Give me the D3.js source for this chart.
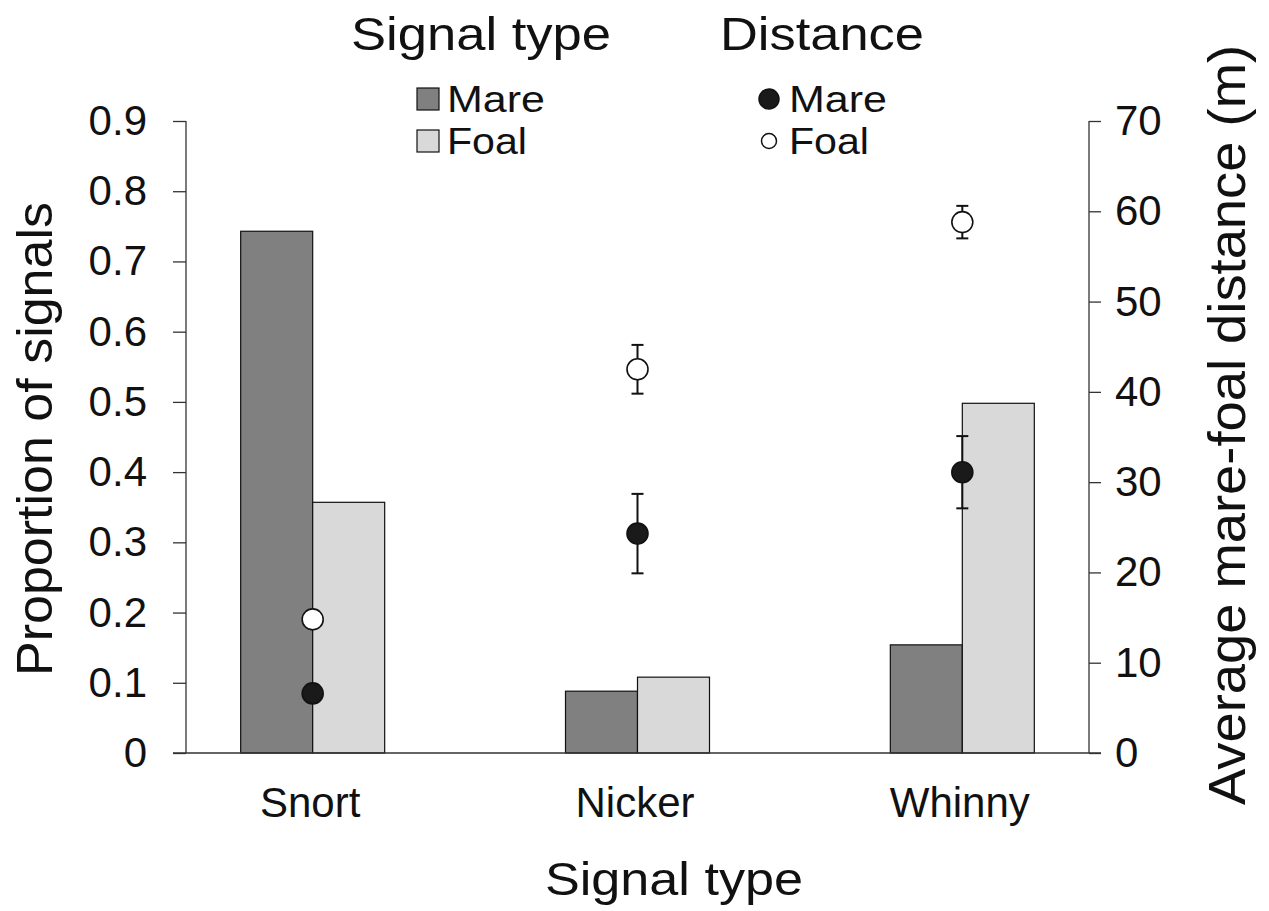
<!DOCTYPE html>
<html>
<head>
<meta charset="utf-8">
<script src="https://cdn.jsdelivr.net/npm/d3@7"></script>
<style>
  html, body { margin: 0; padding: 0; background: #fff; }
  svg { display: block; font-family: "Liberation Sans", Arial, sans-serif; }
</style>
</head>
<body>
<svg id="chart" width="1269" height="911"></svg>
<script>
// Signal categories
const categories = ["Snort", "Nicker", "Whinny"];

// Proportion of signals produced (bars, left axis)
const mareProportion = [0.743, 0.088, 0.154];
const foalProportion = [0.357, 0.108, 0.498];

// Average mare-foal distance in metres (points, right axis)
const mareDistance = [6.6, 24.3, 31.1];
const mareDistanceErr = [0, 4.4, 4.0];
const foalDistance = [14.8, 42.5, 58.8];
const foalDistanceErr = [0, 2.7, 1.8];

const leftTicks = [0, 0.1, 0.2, 0.3, 0.4, 0.5, 0.6, 0.7, 0.8, 0.9];
const rightTicks = [0, 10, 20, 30, 40, 50, 60, 70];

const svg = d3.select("#chart");
const plotLeft = 186, plotRight = 1089, plotTop = 121, plotBottom = 753;

const x = d3.scalePoint().domain(categories).range([plotLeft, plotRight]).padding(0.39);
const yL = d3.scaleLinear().domain([0, 0.9]).range([plotBottom, plotTop]);
const yR = d3.scaleLinear().domain([0, 70]).range([plotBottom, plotTop]);
const barW = 72;

const axisColor = "#333";
const ink = "#111";

// Bars
const barData = categories.flatMap((c, i) => [
  { cat: c, v: mareProportion[i], off: -barW, fill: "#808080" },
  { cat: c, v: foalProportion[i], off: 0, fill: "#d9d9d9" }
]);
svg.append("g").selectAll("rect.bar").data(barData).join("rect")
  .attr("class", "bar")
  .attr("x", d => x(d.cat) + d.off)
  .attr("width", barW)
  .attr("y", d => yL(d.v))
  .attr("height", d => yL(0) - yL(d.v))
  .attr("fill", d => d.fill)
  .attr("stroke", ink)
  .attr("stroke-width", 1.2);

// Left axis
const axL = svg.append("g").attr("transform", `translate(${plotLeft},0)`)
  .call(d3.axisLeft(yL).tickValues(leftTicks).tickSize(13).tickPadding(26)
    .tickFormat(d => d === 0 ? "0" : d3.format(".1f")(d)));
// Right axis
const axR = svg.append("g").attr("transform", `translate(${plotRight},0)`)
  .call(d3.axisRight(yR).tickValues(rightTicks).tickSize(12).tickPadding(14)
    .tickFormat(d3.format("d")));
// Bottom axis (category labels only)
const axB = svg.append("g").attr("transform", `translate(0,${plotBottom})`)
  .call(d3.axisBottom(x).tickSize(0).tickPadding(34));

[axL, axR, axB].forEach(a => {
  a.select(".domain").remove();
  a.selectAll(".tick line").attr("stroke", axisColor).attr("stroke-width", 1.3);
  a.selectAll(".tick text").attr("fill", ink).style("font-size", "42px")
    .style("font-family", "'Liberation Sans', Arial, sans-serif");
});
axB.selectAll(".tick text").attr("dy", "0.71em").attr("dx", -3);

// Axis lines
svg.append("line").attr("x1", plotLeft).attr("x2", plotLeft).attr("y1", yL(0.9)).attr("y2", plotBottom)
  .attr("stroke", axisColor).attr("stroke-width", 1.3);
svg.append("line").attr("x1", plotRight).attr("x2", plotRight).attr("y1", yR(70)).attr("y2", plotBottom)
  .attr("stroke", axisColor).attr("stroke-width", 1.3);
svg.append("line").attr("x1", plotLeft - 13).attr("x2", plotRight + 12).attr("y1", plotBottom).attr("y2", plotBottom)
  .attr("stroke", axisColor).attr("stroke-width", 1.5);

// Distance points with error bars
const pts = categories.flatMap((c, i) => [
  { cat: c, v: foalDistance[i], e: foalDistanceErr[i], fill: "#fff" },
  { cat: c, v: mareDistance[i], e: mareDistanceErr[i], fill: "#1a1a1a" }
]);
const pg = svg.append("g");
const eb = pts.filter(d => d.e > 0);
pg.selectAll("line.err").data(eb).join("line").attr("class", "err")
  .attr("x1", d => x(d.cat)).attr("x2", d => x(d.cat))
  .attr("y1", d => yR(d.v + d.e)).attr("y2", d => yR(d.v - d.e))
  .attr("stroke", ink).attr("stroke-width", 2);
pg.selectAll("line.capT").data(eb).join("line").attr("class", "capT")
  .attr("x1", d => x(d.cat) - 6).attr("x2", d => x(d.cat) + 6)
  .attr("y1", d => yR(d.v + d.e)).attr("y2", d => yR(d.v + d.e))
  .attr("stroke", ink).attr("stroke-width", 2);
pg.selectAll("line.capB").data(eb).join("line").attr("class", "capB")
  .attr("x1", d => x(d.cat) - 6).attr("x2", d => x(d.cat) + 6)
  .attr("y1", d => yR(d.v - d.e)).attr("y2", d => yR(d.v - d.e))
  .attr("stroke", ink).attr("stroke-width", 2);
pg.selectAll("circle").data(pts).join("circle")
  .attr("cx", d => x(d.cat)).attr("cy", d => yR(d.v)).attr("r", 10.5)
  .attr("fill", d => d.fill).attr("stroke", ink).attr("stroke-width", 1.6);

// Axis titles
svg.append("text").attr("x", 674).attr("y", 895)
  .attr("text-anchor", "middle").style("font-size", "46px").attr("fill", ink)
  .attr("textLength", 258).attr("lengthAdjust", "spacingAndGlyphs")
  .text("Signal type");
svg.append("text").attr("transform", `translate(52,439) rotate(-90)`)
  .attr("text-anchor", "middle").style("font-size", "50px").attr("fill", ink)
  .attr("textLength", 474).attr("lengthAdjust", "spacingAndGlyphs")
  .text("Proportion of signals");
svg.append("text").attr("transform", `translate(1245,425) rotate(-90)`)
  .attr("text-anchor", "middle").style("font-size", "52px").attr("fill", ink)
  .attr("textLength", 760).attr("lengthAdjust", "spacingAndGlyphs")
  .text("Average mare-foal distance (m)");

// Legends
const lg = svg.append("g").attr("fill", ink);
lg.append("text").attr("x", 481).attr("y", 50).attr("text-anchor", "middle")
  .style("font-size", "46px").attr("textLength", 260).attr("lengthAdjust", "spacingAndGlyphs")
  .text("Signal type");
lg.append("text").attr("x", 822).attr("y", 50).attr("text-anchor", "middle")
  .style("font-size", "46px").attr("textLength", 204).attr("lengthAdjust", "spacingAndGlyphs")
  .text("Distance");

const sq = [
  { label: "Mare", fill: "#808080", y: 88 },
  { label: "Foal", fill: "#d9d9d9", y: 130 }
];
lg.selectAll("rect.leg").data(sq).join("rect").attr("class", "leg")
  .attr("x", 417).attr("y", d => d.y).attr("width", 22).attr("height", 22)
  .attr("fill", d => d.fill).attr("stroke", ink).attr("stroke-width", 1.2);
lg.selectAll("text.sqlab").data(sq).join("text").attr("class", "sqlab")
  .attr("x", 447).attr("y", d => d.y + 24).style("font-size", "36px")
  .attr("textLength", d => d.label === "Mare" ? 98 : 80).attr("lengthAdjust", "spacingAndGlyphs")
  .text(d => d.label);

const cl = [
  { label: "Mare", fill: "#1a1a1a", r: 10, y: 99 },
  { label: "Foal", fill: "#fff", r: 7.5, y: 141 }
];
lg.selectAll("circle.leg").data(cl).join("circle").attr("class", "leg")
  .attr("cx", 769).attr("cy", d => d.y).attr("r", d => d.r)
  .attr("fill", d => d.fill).attr("stroke", ink).attr("stroke-width", 1.5);
lg.selectAll("text.cllab").data(cl).join("text").attr("class", "cllab")
  .attr("x", 789).attr("y", d => d.y + 13).style("font-size", "36px")
  .attr("textLength", d => d.label === "Mare" ? 98 : 80).attr("lengthAdjust", "spacingAndGlyphs")
  .text(d => d.label);
</script>
</body>
</html>
